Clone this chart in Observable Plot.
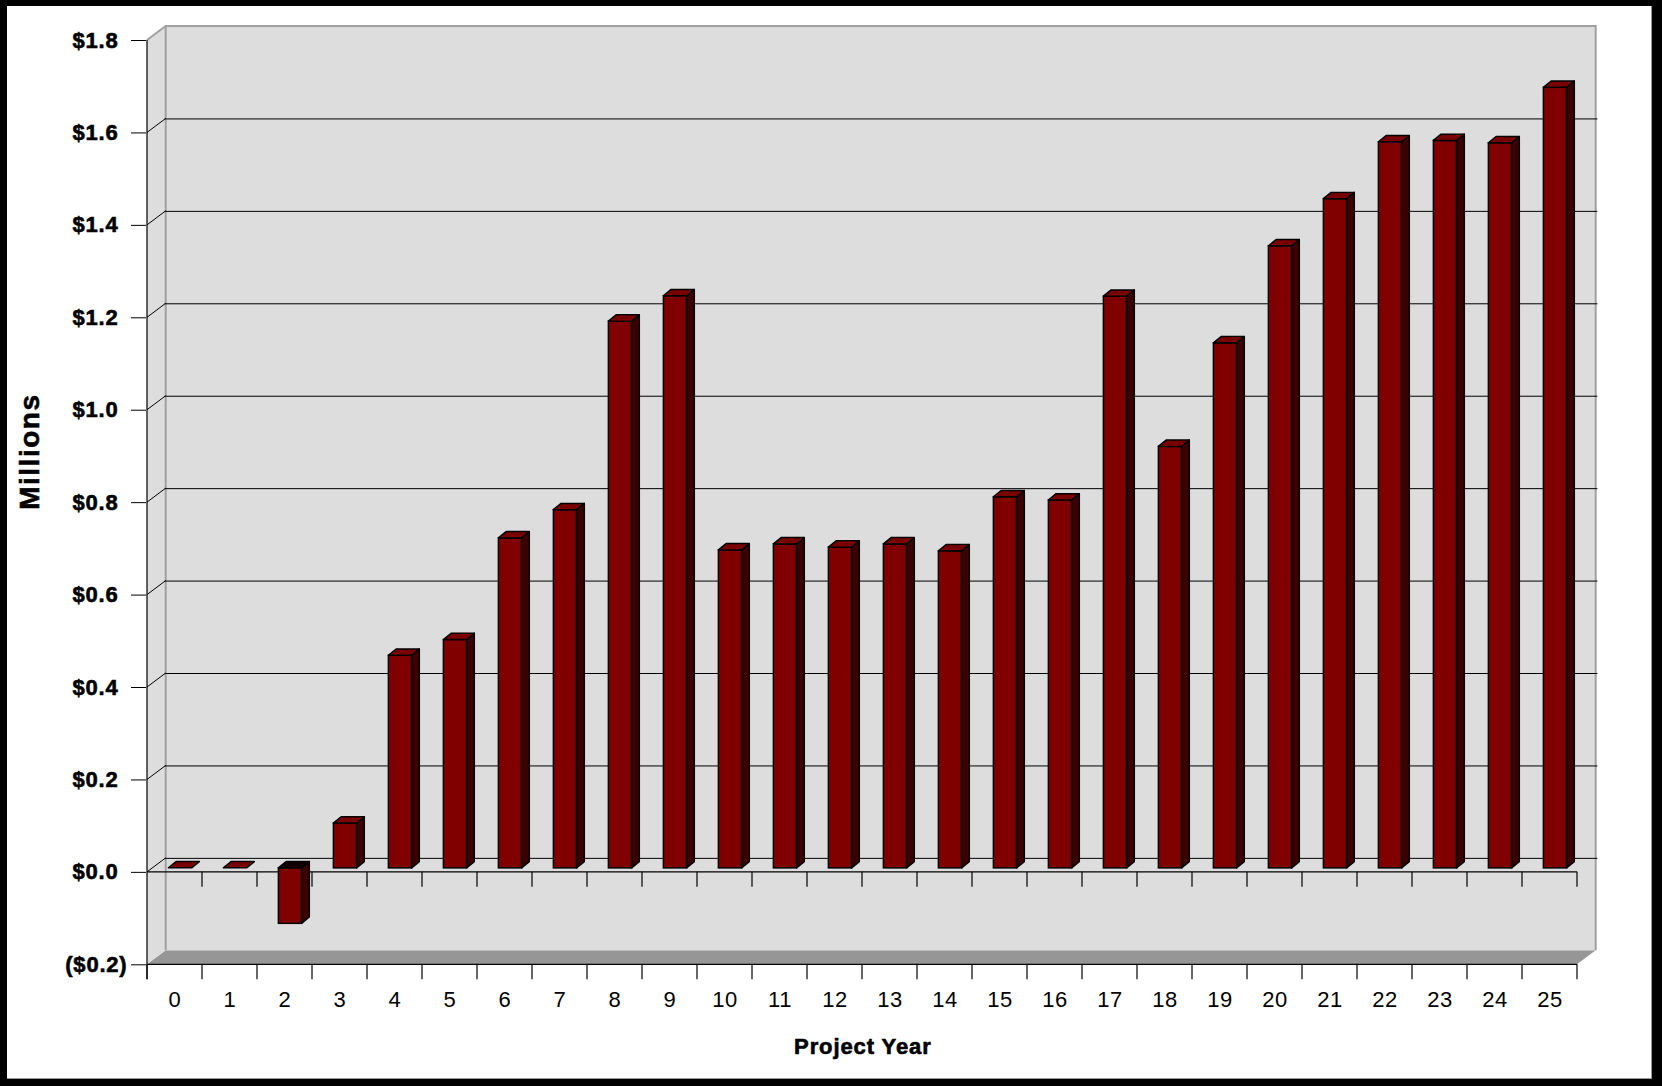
<!DOCTYPE html>
<html><head><meta charset="utf-8">
<script src="https://cdn.jsdelivr.net/npm/d3@7"></script>
<script src="https://cdn.jsdelivr.net/npm/@observablehq/plot@0.6"></script>
<style>
html,body{margin:0;padding:0;background:#fff;}
#wrap{position:relative;width:1662px;height:1086px;overflow:hidden;}
#chart{position:absolute;left:0;top:0;}
#border{position:absolute;left:0;top:0;width:1662px;height:1086px;box-sizing:border-box;border-style:solid;border-color:#000;border-width:6px 10px 7px 7px;pointer-events:none;}
#inner{position:absolute;left:0;top:0;right:0;bottom:0;border-right:1px solid #9a9a9a;border-bottom:1px solid #9a9a9a;}
</style></head>
<body><div id="wrap"><div id="chart"></div><div id="border"><div id="inner"></div></div></div>
<script>
// ---- data ----
const years = [0,1,2,3,4,5,6,7,8,9,10,11,12,13,14,15,16,17,18,19,20,21,22,23,24,25];
const values = [0, 0, -0.12, 0.097, 0.460, 0.494, 0.714, 0.775, 1.183, 1.238, 0.688, 0.701, 0.694, 0.701, 0.686, 0.803, 0.796, 1.237, 0.912, 1.136, 1.346, 1.448, 1.571, 1.574, 1.569, 1.689];
const yTicks = [-0.2, 0, 0.2, 0.4, 0.6, 0.8, 1.0, 1.2, 1.4, 1.6, 1.8];
const yTitle = "Millions";
const xTitle = "Project Year";
const data = years.map((year, i) => ({year, value: values[i]}));

// ---- 3D look (styling constants) ----
const WDX = 18.7, WDY = -14;     // wall depth offset
const BDX = 5.5, BDY = -4;       // bar placement in depth
const SDX = 7.7, SDY = -6.3;     // bar own depth
const BAR_INSET = 15.9;
const FRONT = "#800000", SIDE = "#3c0000", TOP = "#7a0000", NEGTOP = "#120000";
const WALL = "#dddddd", FLOOR = "#969696", EDGE = "#a0a0a0";
const yMin = yTicks[0], yMax = yTicks[yTicks.length - 1];

const fmt = v => v < 0 ? `($${(-v).toFixed(1)})` : `$${v.toFixed(1)}`;
const poly = pts => pts.map(p => p.join(",")).join(" ");

function frameGeom(x, y) {
  const bw = x.bandwidth ? x.bandwidth() : (x(years[1]) - x(years[0]));
  const x0 = x(years[0]), x1 = x(years[years.length - 1]) + bw;
  return {bw, x0, x1, yT: y(yMax), yB: y(yMin)};
}

function walls(index, {x, y}) {
  const {x0, x1, yT, yB} = frameGeom(x, y);
  const g = d3.create("svg:g");
  g.append("polygon").attr("points", poly([[x0, yB], [x1, yB], [x1 + WDX, yB + WDY], [x0 + WDX, yB + WDY]])).attr("fill", FLOOR);
  g.append("polygon").attr("points", poly([[x0, yT], [x0 + WDX, yT + WDY], [x0 + WDX, yB + WDY], [x0, yB]])).attr("fill", WALL);
  g.append("rect").attr("x", x0 + WDX).attr("y", yT + WDY).attr("width", x1 - x0).attr("height", yB - yT).attr("fill", WALL);
  g.append("path")
    .attr("d", `M${x0},${yT}L${x0 + WDX},${yT + WDY}L${x1 + WDX},${yT + WDY}L${x1 + WDX},${yB + WDY}M${x0 + WDX},${yT + WDY}L${x0 + WDX},${yB + WDY}`)
    .attr("fill", "none").attr("stroke", EDGE).attr("stroke-width", 2);
  for (const t of yTicks) {
    if (t <= yMin || t >= yMax) continue;
    g.append("line").attr("x1", x0).attr("y1", y(t)).attr("x2", x0 + WDX).attr("y2", y(t) + WDY)
      .attr("stroke", "#000").attr("stroke-width", 1);
  }
  return g.node();
}

function frontLines(index, {x, y}) {
  const {bw, x0, x1, yT, yB} = frameGeom(x, y);
  const g = d3.create("svg:g").attr("stroke", "#000").attr("stroke-width", 1.2);
  const y0 = y(0);
  g.append("line").attr("x1", x0).attr("x2", x1).attr("y1", y0).attr("y2", y0);
  g.append("line").attr("x1", x0).attr("x2", x1).attr("y1", yB).attr("y2", yB);
  for (let k = 0; k <= years.length; k++) {
    const xx = x0 + k * bw;
    if (k > 0) g.append("line").attr("x1", xx).attr("x2", xx).attr("y1", y0).attr("y2", y0 + 15);
    g.append("line").attr("x1", xx).attr("x2", xx).attr("y1", yB).attr("y2", yB + 15);
  }
  g.append("line").attr("x1", x0).attr("x2", x0).attr("y1", yT).attr("y2", yB + 15);
  return g.node();
}

function barDepth(index, {x, y}) {
  const {bw} = frameGeom(x, y);
  const g = d3.create("svg:g").attr("stroke", "#000").attr("stroke-width", 1.5).attr("stroke-linejoin", "round");
  for (const d of data) {
    const xl = x(d.year) + BAR_INSET + BDX;
    const xr = x(d.year) + bw - BAR_INSET + BDX;
    const y0 = y(0) + BDY, yv = y(d.value) + BDY;
    const yt = Math.min(y0, yv), yb = Math.max(y0, yv);
    if (yb > yt) {
      g.append("polygon").attr("points", poly([[xr, yt], [xr + SDX, yt + SDY], [xr + SDX, yb + SDY], [xr, yb]])).attr("fill", SIDE);
    }
    g.append("polygon").attr("points", poly([[xl, yt], [xr, yt], [xr + SDX, yt + SDY], [xl + SDX, yt + SDY]]))
      .attr("fill", d.value < 0 ? NEGTOP : TOP);
  }
  return g.node();
}

const plot = Plot.plot({
  width: 1662,
  height: 1086,
  marginLeft: 146,
  marginRight: 83.3,
  marginTop: 40,
  marginBottom: 121.7,
  style: {fontFamily: "Arial, 'Liberation Sans', sans-serif", fontSize: "22px", color: "#000", background: "transparent"},
  x: {type: "band", domain: years, paddingInner: 0, paddingOuter: 0, label: null},
  y: {domain: [yMin, yMax], label: null},
  marks: [
    walls,
    Plot.ruleY(yTicks.filter(t => t > yMin && t < yMax), {dx: WDX, dy: WDY, stroke: "#000", strokeWidth: 1}),
    frontLines,
    Plot.barY(data, {x: "year", y: "value", fill: FRONT, stroke: "#000", strokeWidth: 1.5,
      insetLeft: BAR_INSET, insetRight: BAR_INSET, dx: BDX, dy: BDY}),
    barDepth,
    Plot.axisY({ticks: yTicks.filter(t => t >= 0), anchor: "left", tickSize: 15, tickPadding: 13,
      tickFormat: fmt, fontSize: 22, fontWeight: "bold", label: null}),
    Plot.axisY({ticks: [yMin], anchor: "left", tickSize: 15, tickPadding: 4,
      tickFormat: fmt, fontSize: 22, fontWeight: "bold", label: null}),
    Plot.axisX({anchor: "bottom", tickSize: 0, tickPadding: 27, fontSize: 22, label: null}),
    Plot.text([yTitle], {frameAnchor: "left", textAnchor: "middle", lineAnchor: "middle",
      dx: -116, dy: -51, rotate: -90, fontSize: 28, fontWeight: "bold"}),
    Plot.text([xTitle], {frameAnchor: "bottom", textAnchor: "middle", lineAnchor: "middle",
      dy: 82.5, fontSize: 22, fontWeight: "bold"})
  ]
});
document.getElementById("chart").appendChild(plot);

// spacing and weight to match the wide, heavy rendering of the original
const svg = d3.select(plot);
const heavy = sel => sel.attr("stroke", "#000").attr("stroke-width", 0.6).attr("paint-order", "stroke");
heavy(svg.selectAll('g[aria-label="y-axis tick label"] text').attr("letter-spacing", "0.8px"));
svg.selectAll('g[aria-label="x-axis tick label"] text').attr("letter-spacing", "0.6px");
svg.selectAll("text").each(function() {
  const t = this.textContent;
  if (t === yTitle) heavy(d3.select(this).attr("letter-spacing", "1.5px"));
  if (t === xTitle) heavy(d3.select(this).attr("letter-spacing", "0.9px"));
});
</script>
</body></html>
